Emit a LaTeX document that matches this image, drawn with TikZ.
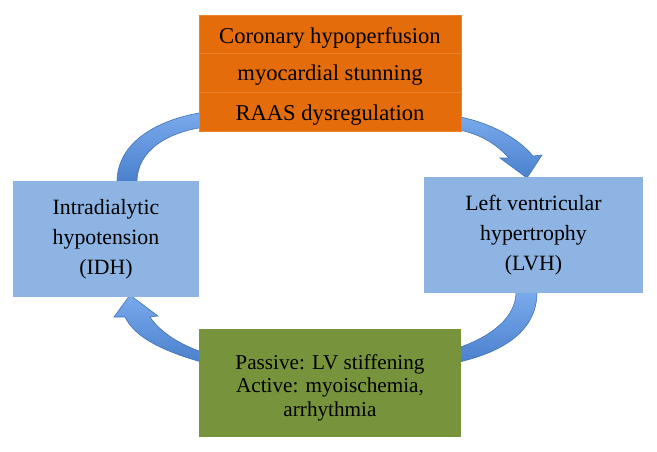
\documentclass[tikz,border=0pt]{standalone}
\usepackage{fontspec}
\setmainfont{Liberation Serif}
\definecolor{orbox}{RGB}{228,108,10}
\definecolor{orline}{RGB}{238,130,40}
\definecolor{bluebox}{RGB}{142,180,227}
\definecolor{greenbox}{RGB}{119,147,60}
\definecolor{arrfill}{RGB}{74,128,205}
\definecolor{arrlight}{RGB}{122,170,236}
\definecolor{arredge}{RGB}{66,114,182}
\newcommand{\lowerby}[2]{\raisebox{-#1}[\height][\depth]{#2}}
\begin{document}
\begin{tikzpicture}[x=1pt,y=-1pt,
  orrow/.style={fill=orbox,draw=orline,line width=0.6pt,minimum width=262pt,inner sep=0pt,
     font=\fontsize{22.6}{26}\selectfont},
  bluebx/.style={fill=bluebox,draw=none,inner sep=0pt,align=center,
     font=\fontsize{21.8}{30}\selectfont},
  greenbx/.style={fill=greenbox,draw=none,inner sep=0pt,
     font=\fontsize{21.2}{23.5}\selectfont},
  blockarrow/.style={top color=arrlight,bottom color=arrfill,draw=arredge,line width=0.6pt}]
\useasboundingbox (0,0) rectangle (657,451);
% block arrows (drawn first, boxes on top)
% IDH -> top box
\path[blockarrow] (117,182) .. controls (117,142) and (158,119) .. (205,112)
   -- (205,127) .. controls (168,132) and (137,150) .. (137,182) -- cycle;
% top box -> LVH
\path[blockarrow] (455,116) .. controls (490,122) and (518,138) .. (533,156)
   -- (542,155) -- (527,178) -- (500,158) -- (509,158)
   .. controls (497,145) and (482,134) .. (455,129) -- cycle;
% LVH -> bottom box
\path[blockarrow] (537,292) .. controls (537,330) and (505,352) .. (455,363)
   -- (455,349) .. controls (494,336) and (516,316) .. (516,292) -- cycle;
% bottom box -> IDH
\path[blockarrow] (205,363) .. controls (165,352) and (135,338) .. (125,317)
   -- (114,317) -- (130,295) -- (158,316) -- (150,317)
   .. controls (160,332) and (180,345) .. (205,353) -- cycle;
% boxes
\node[orrow,minimum height=38pt] (c1) at (330,34) {\lowerby{4pt}{Coronary hypoperfusion}};
\node[orrow,minimum height=39pt] (c2) at (330,72.5) {\lowerby{3pt}{myocardial stunning}};
\node[orrow,minimum height=39pt] (c3) at (330,111.5) {\lowerby{4pt}{RAAS dysregulation}};
\node[bluebx,minimum width=186pt,minimum height=116pt] (idh) at (106,239)
  {Intradialytic\\hypotension\\(IDH)};
\node[bluebx,minimum width=219pt,minimum height=116pt] (lvh) at (533.5,235)
  {Left ventricular\\hypertrophy\\(LVH)};
\node[greenbx,minimum width=262pt,minimum height=108pt] (dys) at (330,383)
  {\lowerby{5pt}{\begin{tabular}{@{}c@{}}Passive: LV stiffening\\Active: myoischemia,\\ arrhythmia\end{tabular}}};
\end{tikzpicture}
\end{document}
